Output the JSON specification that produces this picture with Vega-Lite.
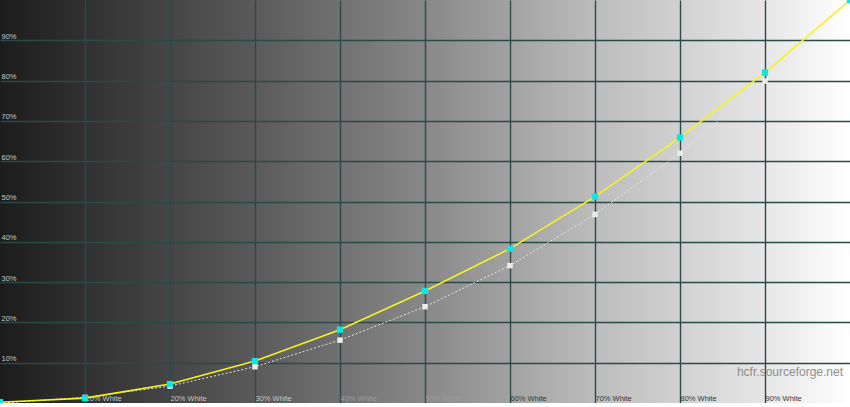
{
  "$schema": "https://vega.github.io/schema/vega-lite/v6.json",
  "width": 850,
  "height": 403,
  "padding": 0,
  "autosize": {"type": "none"},
  "background": "#d8d8d8",
  "config": {
    "view": {
      "stroke": null,
      "fill": {
        "gradient": "linear",
        "x1": 0, "x2": 1, "y1": 0, "y2": 0,
        "stops": [
          {"offset": 0, "color": "#1c1c1c"},
          {"offset": 0.3, "color": "#5a5a5a"},
          {"offset": 0.5, "color": "#888888"},
          {"offset": 0.7, "color": "#bcbcbc"},
          {"offset": 0.9, "color": "#e6e6e6"},
          {"offset": 1, "color": "#ffffff"}
        ]
      }
    },
    "font": "Liberation Sans"
  },
  "data": {
    "values": [
      {"level": 0.0, "measured": 0.002, "reference": 0.0},
      {"level": 0.1, "measured": 0.012, "reference": 0.014},
      {"level": 0.2, "measured": 0.047, "reference": 0.042},
      {"level": 0.3, "measured": 0.104, "reference": 0.09},
      {"level": 0.4, "measured": 0.182, "reference": 0.156},
      {"level": 0.5, "measured": 0.278, "reference": 0.239},
      {"level": 0.6, "measured": 0.383, "reference": 0.341},
      {"level": 0.7, "measured": 0.512, "reference": 0.468},
      {"level": 0.8, "measured": 0.659, "reference": 0.62},
      {"level": 0.9, "measured": 0.82, "reference": 0.799},
      {"level": 1.0, "measured": 1.0, "reference": 1.0}
    ]
  },
  "layer": [
    {
      "mark": {"type": "line", "color": "#e4e4e4", "strokeWidth": 1, "strokeDash": [2, 2]},
      "encoding": {
        "x": {
          "field": "level",
          "type": "quantitative",
          "scale": {"domain": [0, 1], "nice": false},
          "axis": {
            "title": null,
            "orient": "bottom",
            "values": [0.1, 0.2, 0.3, 0.4, 0.5, 0.6, 0.7, 0.8, 0.9],
            "labelExpr": "round(datum.value*100) + '% White'",
            "domain": false,
            "ticks": false,
            "tickSize": 0,
            "labelPadding": -3,
            "labelBaseline": "alphabetic",
            "labelAlign": "left",
            "labelDx": 2,
            "labelFontSize": 7.5,
            "labelColor": {
              "condition": [
                {"test": "datum.value < 0.35", "value": "#c4c4c4"},
                {"test": "datum.value < 0.55", "value": "#9c9c9c"}
              ],
              "value": "#3a3a3a"
            },
            "grid": true,
            "gridColor": "#2c4a45",
            "gridWidth": 1.4,
            "gridOpacity": 1,
            "labelOverlap": false,
            "labelBound": false,
            "labelFlush": false
          }
        },
        "y": {
          "field": "reference",
          "type": "quantitative",
          "scale": {"domain": [0, 1], "nice": false},
          "axis": {
            "title": null,
            "values": [0.1, 0.2, 0.3, 0.4, 0.5, 0.6, 0.7, 0.8, 0.9],
            "labelExpr": "round(datum.value*100) + '%'",
            "domain": false,
            "ticks": false,
            "tickSize": 0,
            "labelPadding": -1,
            "labelAlign": "left",
            "labelBaseline": "bottom",
            "labelDy": -1,
            "labelFontSize": 7.5,
            "labelColor": "#c8c8c8",
            "grid": true,
            "gridColor": "#2c4a45",
            "gridWidth": 1.4,
            "gridOpacity": 1,
            "labelOverlap": false,
            "labelBound": false,
            "labelFlush": false
          }
        }
      }
    },
    {
      "mark": {"type": "square", "color": "#ececec", "opacity": 1, "size": 30},
      "encoding": {
        "x": {"field": "level", "type": "quantitative"},
        "y": {"field": "reference", "type": "quantitative"}
      }
    },
    {
      "mark": {"type": "line", "color": "#f4f420", "strokeWidth": 1.6},
      "encoding": {
        "x": {"field": "level", "type": "quantitative"},
        "y": {"field": "measured", "type": "quantitative"}
      }
    },
    {
      "mark": {"type": "square", "color": "#10e4e4", "opacity": 1, "size": 40},
      "encoding": {
        "x": {"field": "level", "type": "quantitative"},
        "y": {"field": "measured", "type": "quantitative"}
      }
    },
    {
      "data": {"values": [{"label": "hcfr.sourceforge.net"}]},
      "mark": {"type": "text", "align": "left", "baseline": "middle", "fontSize": 12, "color": "#8e8e8e", "font": "Liberation Sans"},
      "encoding": {
        "x": {"datum": 0.867, "type": "quantitative"},
        "y": {"datum": 0.078, "type": "quantitative"},
        "text": {"field": "label", "type": "nominal"}
      }
    }
  ]
}
